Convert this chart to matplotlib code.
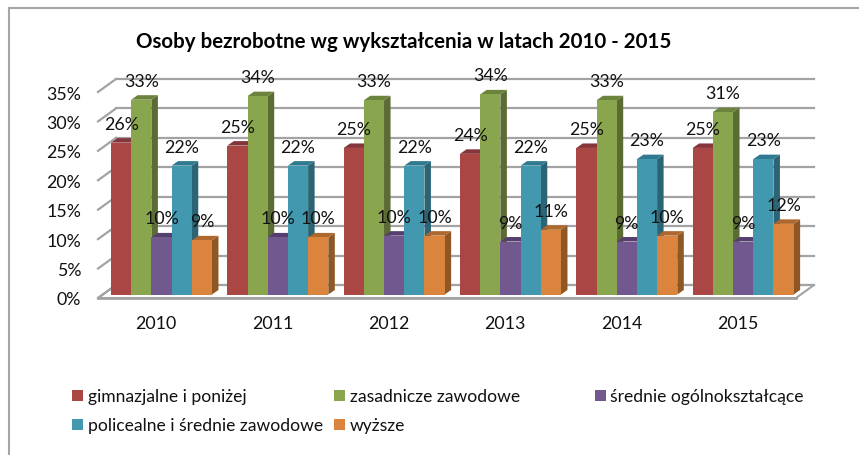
import matplotlib
matplotlib.use("Agg")
import matplotlib.pyplot as plt
from matplotlib.patches import Polygon, Rectangle

plt.rcParams["font.family"] = ["Lato", "DejaVu Sans"]

# Data
years = ["2010", "2011", "2012", "2013", "2014", "2015"]
gimnazjalne = [25.8, 25.3, 24.9, 23.9, 24.9, 24.9]
zasadnicze = [33.1, 33.7, 33.0, 34.0, 33.0, 31.0]
srednie_ogolne = [9.7, 9.7, 10.0, 9.0, 9.0, 9.0]
policealne = [21.9, 21.9, 21.9, 21.9, 23.0, 23.0]
wyzsze = [9.2, 9.7, 10.0, 11.0, 10.0, 12.0]
y_ticks = [0, 5, 10, 15, 20, 25, 30, 35]

series = [gimnazjalne, zasadnicze, srednie_ogolne, policealne, wyzsze]
names = [
    "gimnazjalne i poniżej",
    "zasadnicze zawodowe",
    "średnie ogólnokształcące",
    "policealne i średnie zawodowe",
    "wyższe",
]
# front, side, top
colors = [
    ("#AA4643", "#7A3331", "#84363A"),
    ("#89A54E", "#5B6B34", "#6C833D"),
    ("#71588F", "#4F3D66", "#553F6E"),
    ("#4198AF", "#2A6475", "#2F7A90"),
    ("#DB843D", "#8F5725", "#AE672D"),
]

W, H = 859, 456
fig = plt.figure(figsize=(W / 100, H / 100), dpi=100, facecolor="white")

# Axes box is the front of the floor/wall, in pixels
left, right, bottom, top = 98, 796, 299, 93
ax = fig.add_axes([left / W, 1 - bottom / H, (right - left) / W, (bottom - top) / H])
ax.set_xlim(-0.5, 5.5)
ax.set_ylim(0, 35)
ax.patch.set_visible(False)
for s in ax.spines.values():
    s.set_visible(False)

px_x = 6 / (right - left)
px_y = 35 / (bottom - top)
wall_dx, wall_dy = 18 * px_x, 13 * px_y
bar_dx, bar_dy = 6.5 * px_x, 4.5 * px_y
bar_w = 20.2 * px_x
floor_y = 3.5 * px_y
first_bar = -45.2 * px_x

# Walls and floor
grid_c = "#A3A3A3"
ax.add_patch(
    Polygon(
        [(-0.5, 0), (5.5, 0), (5.5 + wall_dx, wall_dy), (-0.5 + wall_dx, wall_dy)],
        closed=True, fc="white", ec=grid_c, lw=1.5, clip_on=False, zorder=1,
    )
)
for t in y_ticks:
    ax.plot([-0.5, -0.5 + wall_dx], [t, t + wall_dy], color=grid_c, lw=1.6, clip_on=False, zorder=1)
    ax.plot([-0.5 + wall_dx, 5.5 + wall_dx], [t + wall_dy, t + wall_dy], color=grid_c, lw=1.6, clip_on=False, zorder=1)
ax.plot([-0.5, 5.5], [0, 0], color=grid_c, lw=2, clip_on=False, zorder=1)

# Bars, left to right so each one covers the side of the previous one
z = 2
for g in range(len(years)):
    for i, vals in enumerate(series):
        v = vals[g]
        x0 = g + first_bar + i * bar_w
        x1 = x0 + bar_w
        y1 = floor_y + v
        front, side, top_c = colors[i]
        ax.add_patch(
            Polygon(
                [(x1, floor_y), (x1 + bar_dx, floor_y + bar_dy), (x1 + bar_dx, y1 + bar_dy), (x1, y1)],
                closed=True, fc=side, ec="none", clip_on=False, zorder=z,
            )
        )
        ax.add_patch(
            Polygon(
                [(x0, y1), (x1, y1), (x1 + bar_dx, y1 + bar_dy), (x0 + bar_dx, y1 + bar_dy)],
                closed=True, fc=top_c, ec="none", clip_on=False, zorder=z,
            )
        )
        ax.bar(x0, v, bar_w, bottom=floor_y, align="edge", color=front, clip_on=False, zorder=z + 0.5)
        z += 1
        ax.text(
            x0 + bar_w / 2, y1 + 19 * px_y, f"{v:.0f}%",
            ha="center", va="center", fontsize=12.8, color="#111111", zorder=100,
        )

# Ticks
ax.set_yticks(y_ticks)
ax.set_yticklabels([f"{t}%" for t in y_ticks], fontsize=12.8, color="#111111")
ax.set_xticks(range(len(years)))
ax.set_xticklabels(years, fontsize=12.8, color="#111111")
ax.tick_params(axis="y", length=0, pad=12)
ax.tick_params(axis="x", length=0, pad=12.5)

# Title
fig.text(403.5 / W, 1 - 42 / H, "Osoby bezrobotne wg wykształcenia w latach 2010 - 2015",
         ha="center", va="center", fontsize=14.8, fontweight="bold", color="black")

# Legend
legend_pos = [(72, 396.5), (334, 396.5), (595, 396.5), (72, 425.5), (334, 425.5)]
for (lx, ly), name, c in zip(legend_pos, names, colors):
    fig.add_artist(
        Rectangle((lx / W, 1 - (ly + 5.5) / H), 11 / W, 11 / H, transform=fig.transFigure, fc=c[0], ec="none")
    )
    fig.text((lx + 15.5) / W, 1 - (ly + 1) / H, name, ha="left", va="center", fontsize=12.6, color="#111111")

# Chart border: only top and left show in the crop
border = "#A6A6A6"
fig.add_artist(plt.Line2D([9 / W, 9 / W], [0, 1 - 8.5 / H], color=border, lw=1.5, transform=fig.transFigure))
fig.add_artist(plt.Line2D([9 / W, 1], [1 - 8.5 / H, 1 - 8.5 / H], color=border, lw=1.5, transform=fig.transFigure))

fig.savefig("out.png", dpi=100)
